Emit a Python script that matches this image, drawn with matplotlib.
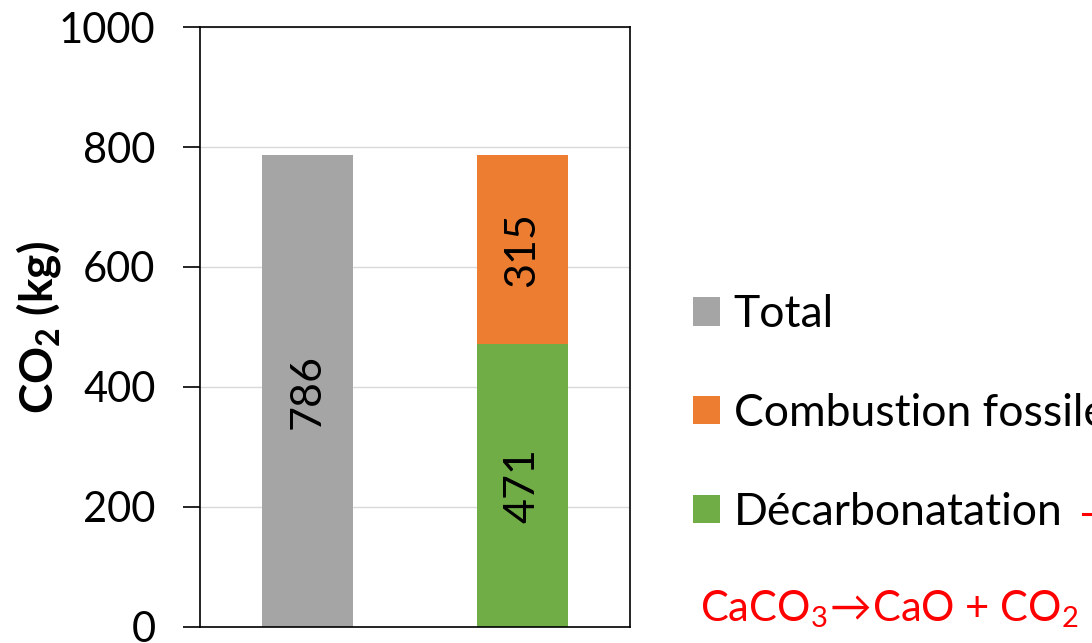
import matplotlib.pyplot as plt

plt.rcParams['font.family'] = ['Lato', 'DejaVu Sans']
plt.rcParams['mathtext.fontset'] = 'custom'
plt.rcParams['mathtext.rm'] = 'Lato'
plt.rcParams['mathtext.bf'] = 'Lato:bold'

# Données : émissions de CO2 par tonne de clinker
categories = ['Total', 'Détail']
total = [786, 0]
decarbonatation = [0, 471]
combustion = [0, 315]
yticks = [0, 200, 400, 600, 800, 1000]

c_total = '#A5A5A5'
c_comb = '#ED7D31'
c_decarb = '#70AD47'

fig = plt.figure(figsize=(10.92, 6.43), dpi=100)
ax = fig.add_axes([0.1832, 0.0249, 0.3938, 0.9331])

b_tot = ax.bar([0], total[:1], width=0.42, color=c_total, label='Total', zorder=2)
b_dec = ax.bar([1], decarbonatation[1:], width=0.42, color=c_decarb,
               label='Décarbonatation', zorder=2)
b_com = ax.bar([1], combustion[1:], bottom=decarbonatation[1:], width=0.42,
               color=c_comb, label='Combustion fossile', zorder=2)

for b in (b_tot, b_dec, b_com):
    ax.bar_label(b, label_type='center', rotation=90, fontsize=31)

ax.set_xlim(-0.5, 1.5)
ax.set_ylim(0, 1000)
ax.set_yticks(yticks)
ax.set_xticks([])
ax.tick_params(axis='y', labelsize=30, length=12, width=1.2, pad=20)
ax.yaxis.grid(True, color='#D9D9D9', linewidth=1, zorder=0)
for s in ax.spines.values():
    s.set_linewidth(1.2)
ax.set_ylabel(r'CO$_\mathbf{2}$ (kg)', fontsize=33, fontweight='bold', labelpad=-3)

# Légende à droite, dans l'ordre Total / Combustion / Décarbonatation
ax.legend([b_tot, b_com, b_dec], ['Total', 'Combustion fossile', 'Décarbonatation'],
          loc='upper left', bbox_to_anchor=(1.1465, 0.555), frameon=False,
          fontsize=32, handlelength=0.61, handleheight=0.61, handletextpad=0.3,
          labelspacing=1.3, borderaxespad=0, borderpad=0)

# Réaction de décarbonatation
fig.text(700 / 1092, 1 - 621 / 643, r'CaCO$_3\!\rightarrow\!$CaO + CO$_2$',
         color='#FF0000', fontsize=30, ha='left', va='baseline')
fig.add_artist(plt.Line2D([1083 / 1092, 1.02], [1 - 514 / 643] * 2,
                          color='#FF0000', linewidth=2.2, transform=fig.transFigure))

fig.savefig('out.png', dpi=100)
